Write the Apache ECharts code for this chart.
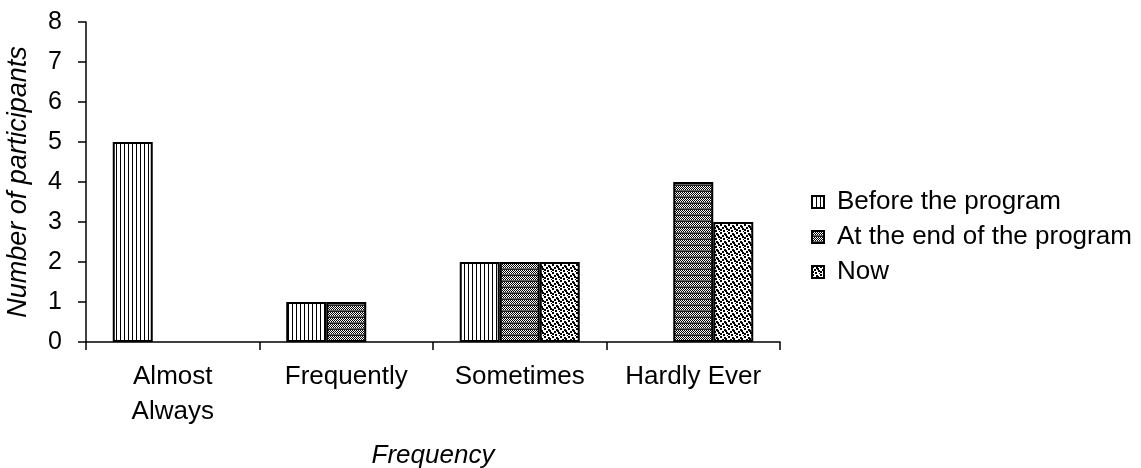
<!DOCTYPE html>
<html>
<head>
<meta charset="utf-8">
<script src="https://cdn.jsdelivr.net/npm/echarts@6/dist/echarts.min.js"></script>
<style>
  html, body { margin: 0; padding: 0; background: #fff; }
  #chart { width: 1141px; height: 468px; }
</style>
</head>
<body>
<div id="chart"></div>
<script>
// Survey responses: how often participants did the activity
const categories = ['Almost\nAlways', 'Frequently', 'Sometimes', 'Hardly Ever'];
const seriesNames = ['Before the program', 'At the end of the program', 'Now'];
const beforeProgram = [5, 1, 2, 0];
const endOfProgram = [0, 1, 2, 4];
const nowValues = [0, 0, 2, 3];
const yTicks = [0, 1, 2, 3, 4, 5, 6, 7, 8];

// Monochrome fill patterns drawn on small canvases
function makeTile(w, h, draw) {
  const c = document.createElement('canvas');
  c.width = w; c.height = h;
  const ctx = c.getContext('2d');
  draw(ctx);
  return { image: c, repeat: 'repeat' };
}
const verticalLines = makeTile(4, 4, ctx => {
  ctx.fillStyle = '#fff'; ctx.fillRect(0, 0, 4, 4);
  ctx.fillStyle = '#000'; ctx.fillRect(0, 0, 1, 4);
});
const darkStripes = makeTile(2, 6, ctx => {
  ctx.fillStyle = '#fff'; ctx.fillRect(0, 0, 2, 6);
  ctx.fillStyle = '#000';
  ctx.fillRect(0, 0, 1, 1); ctx.fillRect(1, 1, 1, 1);
  ctx.fillRect(0, 2, 1, 1); ctx.fillRect(1, 3, 1, 1);
  ctx.fillStyle = '#666'; ctx.fillRect(0, 4, 2, 1);
  ctx.fillStyle = '#222'; ctx.fillRect(0, 5, 2, 1);
});
const stipple = makeTile(8, 8, ctx => {
  ctx.fillStyle = '#fff'; ctx.fillRect(0, 0, 8, 8);
  ctx.fillStyle = '#000';
  [[0,0],[4,1],[2,3],[6,4],[0,5],[3,6],[7,7],[5,2]].forEach(p => ctx.fillRect(p[0], p[1], 2, 2));
});
const fills = [verticalLines, darkStripes, stipple];
const valueSets = [beforeProgram, endOfProgram, nowValues];

// Zero-height bars get no outline so nothing shows along the baseline
function barData(values) {
  return values.map(v => v === 0 ? { value: v, itemStyle: { borderWidth: 0 } } : v);
}

const chart = echarts.init(document.getElementById('chart'));
chart.setOption({
  backgroundColor: '#fff',
  animation: false,
  textStyle: { fontFamily: 'Liberation Sans, Arial, sans-serif', color: '#000' },
  grid: { left: 86, right: 361, top: 22, bottom: 126, containLabel: false, outerBoundsMode: 'none' },
  legend: {
    orient: 'vertical',
    left: 806,
    top: 184,
    icon: 'rect',
    itemWidth: 12,
    itemHeight: 12,
    itemGap: 9,
    textStyle: { fontSize: 26, color: '#000', padding: [0, 0, 0, 8], lineHeight: 26 },
    data: seriesNames
  },
  xAxis: {
    type: 'category',
    data: categories,
    name: 'Frequency',
    nameLocation: 'middle',
    nameGap: 101,
    nameTextStyle: { fontSize: 26, fontStyle: 'italic', color: '#000' },
    axisLine: { lineStyle: { color: '#000', width: 1.5 } },
    axisTick: { show: true, length: 8, lineStyle: { color: '#000', width: 1.5 } },
    axisLabel: { interval: 0, hideOverlap: false, fontSize: 26, color: '#000', margin: 17, lineHeight: 35 }
  },
  yAxis: {
    type: 'value',
    min: yTicks[0],
    max: yTicks[yTicks.length - 1],
    interval: 1,
    name: 'Number of participants',
    nameLocation: 'middle',
    nameGap: 54,
    nameTextStyle: { fontSize: 27, fontStyle: 'italic', color: '#000' },
    axisLine: { show: true, lineStyle: { color: '#000', width: 1.5 } },
    axisTick: { show: true, length: 8, lineStyle: { color: '#000', width: 1.5 } },
    axisLabel: { fontSize: 25, color: '#000', margin: 24 },
    splitLine: { show: false }
  },
  series: seriesNames.map((name, i) => ({
    name: name,
    type: 'bar',
    data: barData(valueSets[i]),
    barWidth: 40,
    barGap: '0%',
    itemStyle: { color: fills[i], borderColor: '#000', borderWidth: 2 }
  }))
});
</script>
</body>
</html>
